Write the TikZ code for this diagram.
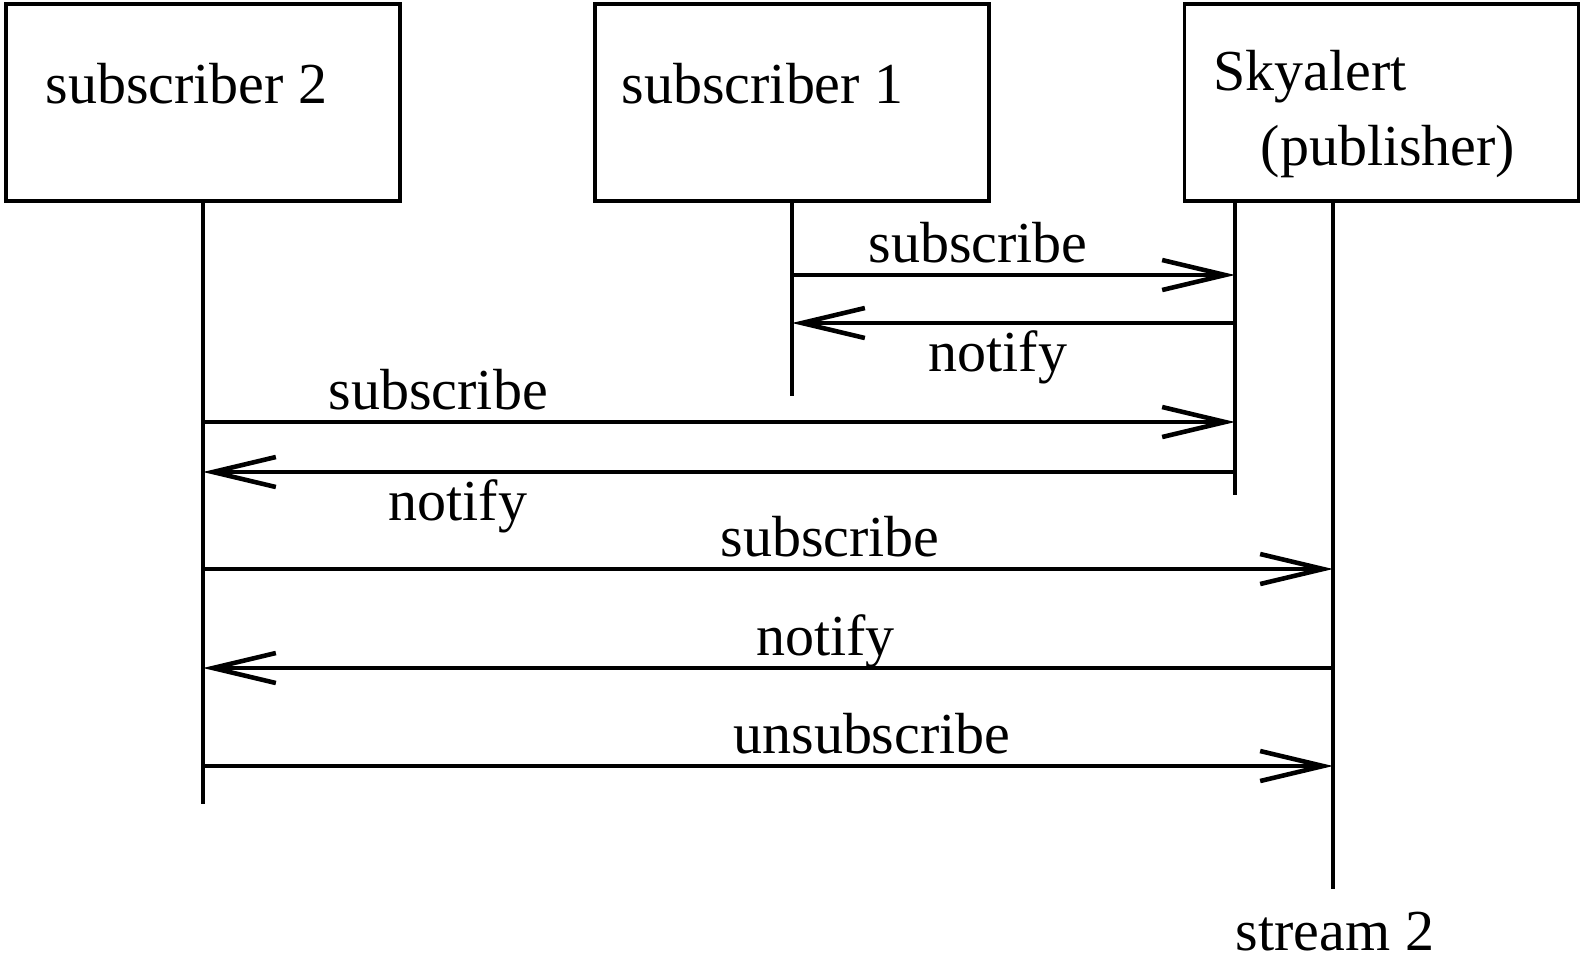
\documentclass[tikz,border=0pt]{standalone}
\usepackage{fontspec}
\setmainfont{Liberation Serif}
\usetikzlibrary{arrows.meta}
\tikzset{
  actor/.style={draw, line width=1.1pt, minimum width=3.94cm, minimum height=1.97cm, inner sep=0pt},
  life/.style={line width=0.9pt},
  msg/.style={line width=0.9pt, -{Straight Barb[length=6.3mm, width=3mm, line width=1.3pt]}},
  lblup/.style={anchor=base, yshift=1.3mm, inner sep=0pt},
  lbldown/.style={anchor=base, yshift=-4.8mm, inner sep=0pt}
}
\begin{document}
\begin{tikzpicture}[font=\fontsize{16.5}{20}\selectfont]
              \useasboundingbox (0,0) rectangle (15.85,-9.63);

              % boxes
              \node[actor] (sub2) at (2.03,-1.025) {};
              \node[actor] (sub1) at (7.92,-1.025) {};
              \node[actor] (sky) at (13.815,-1.025) {};
              \node[anchor=base west, inner sep=0pt] (sub2txt) at (0.45,-1.03) {subscriber 2};
              \node[anchor=base west, inner sep=0pt] (sub1txt) at (6.21,-1.03) {subscriber 1};
              \node[anchor=base west, inner sep=0pt] (skytxt) at (12.13,-0.90) {Skyalert};
              \node[anchor=base west, inner sep=0pt] (pubtxt) at (12.60,-1.65) {(publisher)};

              % points on the lifelines
              \foreach \m/\y in {1/2.75,2/3.23,3/4.22,4/4.72,5/5.69,6/6.68,7/7.66}{
                \coordinate (s2-\m) at (2.03,-\y);
                \coordinate (s1-\m) at (7.92,-\y);
                \coordinate (sa-\m) at (12.35,-\y);
                \coordinate (st-\m) at (13.33,-\y);
              }
              \coordinate (s2-end) at (2.03,-8.04);
              \coordinate (s1-end) at (7.92,-3.96);
              \coordinate (sa-top) at (12.35,-2.01);
              \coordinate (sa-end) at (12.35,-4.95);
              \coordinate (st-top) at (13.33,-2.01);
              \coordinate (st-end) at (13.33,-8.89);

              % lifelines
              \draw[life] (sub2.south) -- (s2-end);
              \draw[life] (sub1.south) -- (s1-end);
              \draw[life] (sa-top) -- (sa-end);
              \draw[life] (st-top) -- (st-end);
              \node[anchor=base, inner sep=0pt] (streamtxt) at (13.35,-9.50) {stream 2};

              % messages
              \draw[msg] (s1-1) to node[pos=0.42, lblup] {subscribe} (sa-1);
              \draw[msg] (sa-2) to node[pos=0.535, lbldown] {notify} (s1-2);
              \draw[msg] (s2-3) to node[pos=0.228, lblup] {subscribe} (sa-3);
              \draw[msg] (sa-4) to node[pos=0.753, lbldown] {notify} (s2-4);
              \draw[msg] (s2-5) to node[pos=0.555, lblup] {subscribe} (st-5);
              \draw[msg] (st-6) to node[pos=0.449, lblup] {notify} (s2-6);
              \draw[msg] (s2-7) to node[pos=0.592, lblup] {unsubscribe} (st-7);
\end{tikzpicture}
\end{document}
